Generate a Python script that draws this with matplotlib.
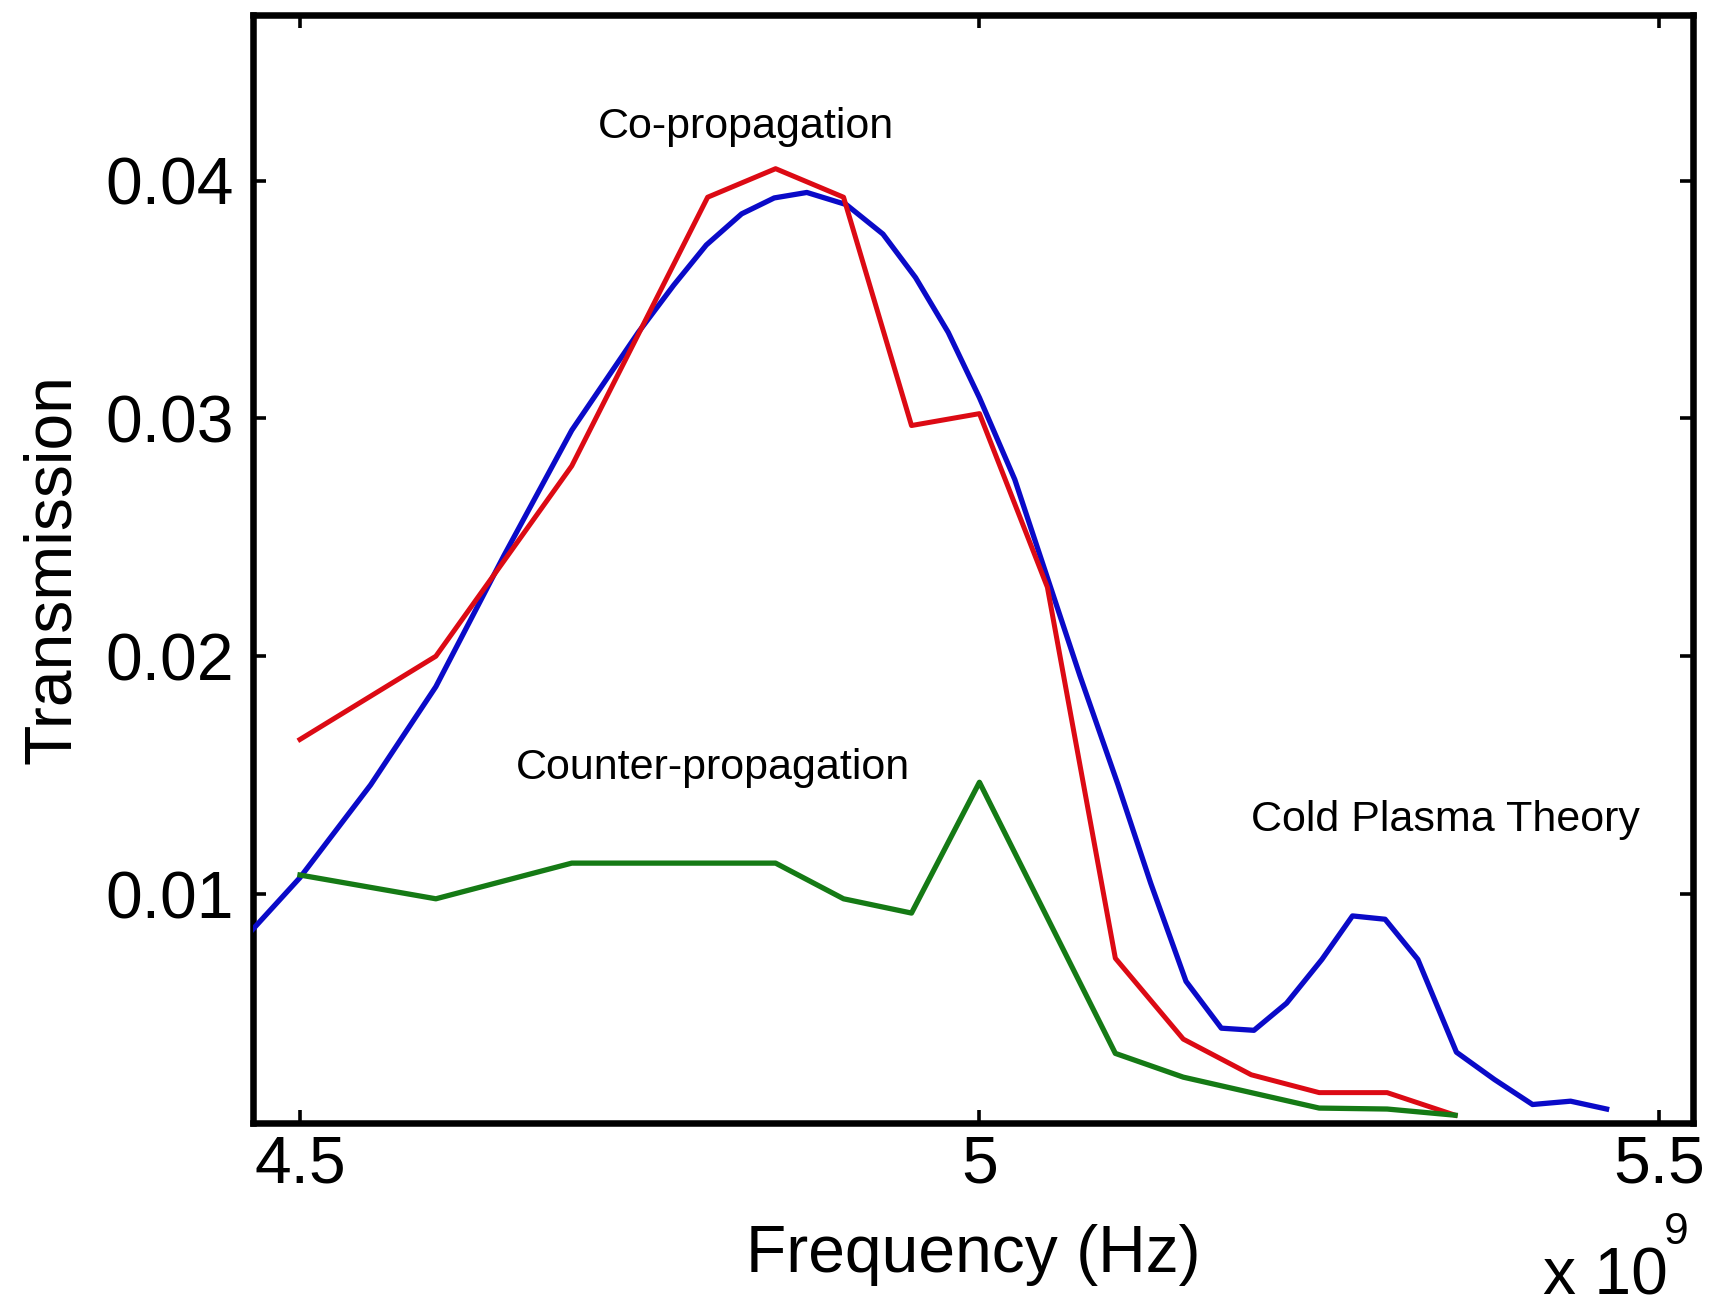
import numpy as np
import matplotlib
matplotlib.use("Agg")
from matplotlib import pyplot as plt

plt.rcParams['font.family'] = ['Liberation Sans', 'DejaVu Sans']

# frequencies in units of 1e9 Hz
f_co = [4.50, 4.60, 4.70, 4.80, 4.85, 4.90, 4.95, 5.00, 5.05, 5.10, 5.15, 5.20, 5.25, 5.30, 5.35]
t_co = [0.0165, 0.0200, 0.0280, 0.0393, 0.0405, 0.0393, 0.0297, 0.0302, 0.0229, 0.0073,
        0.0039, 0.0024, 0.00165, 0.00165, 0.0007]

f_counter = [4.50, 4.60, 4.70, 4.85, 4.90, 4.95, 5.00, 5.10, 5.15, 5.25, 5.30, 5.35]
t_counter = [0.0108, 0.0098, 0.0113, 0.0113, 0.0098, 0.0092, 0.0147, 0.0033, 0.0023,
             0.0010, 0.00096, 0.0007]

f_theory = [4.4655, 4.50, 4.552, 4.60, 4.65, 4.70, 4.749, 4.775, 4.799, 4.825, 4.849,
            4.873, 4.902, 4.929, 4.953, 4.977, 5.00, 5.026, 5.05, 5.074, 5.102, 5.126,
            5.152, 5.178, 5.202, 5.226, 5.252, 5.2745, 5.2985, 5.3226, 5.351, 5.379,
            5.407, 5.435, 5.4615]
t_theory = [0.00853, 0.01069, 0.01459, 0.01872, 0.02422, 0.0295, 0.03362, 0.0356,
            0.03729, 0.0386, 0.03927, 0.0395, 0.03899, 0.03775, 0.03592, 0.03362,
            0.03087, 0.02743, 0.0233, 0.01917, 0.01459, 0.01046, 0.00633, 0.00436,
            0.00427, 0.00541, 0.00725, 0.00908, 0.00894, 0.00725, 0.00335, 0.0022,
            0.00115, 0.00129, 0.00096]

fig = plt.figure(figsize=(17.1, 13.1), dpi=100)
ax = fig.add_axes([0.148, 0.1427, 0.842, 0.846])

ax.plot(f_theory, t_theory, color='#0a0ac8', lw=3.8, zorder=3)
ax.plot(f_co, t_co, color='#dc0a14', lw=3.6, zorder=4)
ax.plot(f_counter, t_counter, color='#157a15', lw=3.8, zorder=4)

ax.set_xlim(4.4655, 5.525)
ax.set_ylim(0.00037, 0.04697)
ax.set_xticks([4.5, 5.0, 5.5])
ax.set_xticklabels(['4.5', '5', '5.5'])
ax.set_yticks([0.01, 0.02, 0.03, 0.04])
ax.set_yticklabels(['0.01', '0.02', '0.03', '0.04'])

for sp in ax.spines.values():
    sp.set_linewidth(4.7)
ax.tick_params(direction='in', length=9.5, width=2.6, top=True, right=True,
               labelsize=47.5)
ax.tick_params(axis='y', pad=14)
ax.tick_params(axis='x', pad=8)

ax.set_xlabel('Frequency (Hz)', fontsize=47.5, labelpad=20)
ax.set_ylabel('Transmission', fontsize=47.5, labelpad=15)

ax.text(4.828, 0.04225, 'Co-propagation', fontsize=31, ha='center', va='center')
ax.text(4.804, 0.01528, 'Counter-propagation', fontsize=31, ha='center', va='center')
ax.text(5.3427, 0.01312, 'Cold Plasma Theory', fontsize=31, ha='center', va='center')

# axis multiplier under the x axis, MATLAB style
fig.text(1543 / 1710, 0.012, 'x 10', fontsize=47.5, ha='left', va='baseline')
fig.text(1664 / 1710, 0.050, '9', fontsize=32, ha='left', va='baseline')

fig.savefig('out.png', dpi=100)
